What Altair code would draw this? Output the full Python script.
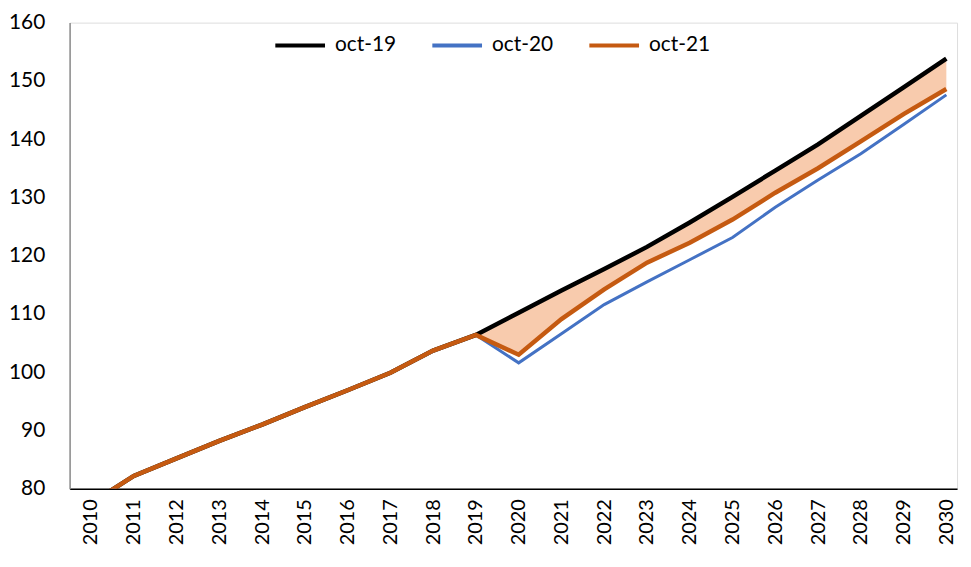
import altair as alt
import pandas as pd

years = list(range(2010, 2031))
oct19 = [77.5, 82.2, 85.2, 88.2, 91.0, 94.0, 96.9, 99.9, 103.7, 106.4,
         110.2, 114.0, 117.7, 121.5, 125.7, 130.1, 134.6, 139.1, 144.0, 148.9, 153.8]
oct20 = [77.5, 82.2, 85.2, 88.2, 91.0, 94.0, 96.9, 99.9, 103.6, 106.4,
         101.6, 106.6, 111.6, 115.5, 119.3, 123.1, 128.3, 133.0, 137.5, 142.5, 147.6]
oct21 = [77.5, 82.2, 85.2, 88.2, 91.0, 94.0, 96.9, 99.9, 103.7, 106.4,
         103.0, 109.1, 114.2, 118.8, 122.2, 126.2, 130.8, 135.0, 139.6, 144.3, 148.6]

series_names = ["oct-19", "oct-20", "oct-21"]
series_colors = ["#000000", "#4472C4", "#C55A11"]
series_widths = [4.5, 3, 4.5]

rows = []
for name, vals in zip(series_names, [oct19, oct20, oct21]):
    for yr, v in zip(years, vals):
        rows.append({"year": yr, "value": v, "series": name})
lines_df = pd.DataFrame(rows)

band_df = pd.DataFrame({"year": years, "upper": oct19, "lower": oct21})
band_df = band_df[band_df["year"] >= 2019]

FONT = "Lato"

x_scale = alt.Scale(domain=[2009.5, 2030.25], nice=False, zero=False)
y_scale = alt.Scale(domain=[80, 160], nice=False, zero=False)

x_axis = alt.Axis(values=years, format="d", labelAngle=270, labelFontSize=20,
                  labelFont=FONT, labelColor="#000000", labelPadding=10,
                  ticks=False, domainColor="#000000", domainWidth=1.5,
                  grid=False, title=None, labelOverlap=False, labelFlush=False)
y_axis = alt.Axis(values=list(range(80, 161, 10)), labelFontSize=21,
                  labelFont=FONT, labelColor="#000000", labelPadding=25,
                  ticks=False, domainColor="#8C8C8C", domainWidth=1.5,
                  grid=False, title=None)

color_enc = alt.Color("series:N",
                      scale=alt.Scale(domain=series_names, range=series_colors),
                      legend=alt.Legend(orient="none", legendX=205, legendY=-4,
                                        direction="horizontal", title=None,
                                        symbolType="stroke", symbolSize=2500,
                                        symbolStrokeWidth=4, labelFontSize=21,
                                        labelFont=FONT, labelColor="#000000",
                                        labelOffset=8, columnPadding=28))

band = alt.Chart(band_df).mark_area(color="#F8CBAD", opacity=1, clip=True).encode(
    x=alt.X("year:Q", scale=x_scale, axis=x_axis),
    y=alt.Y("upper:Q", scale=y_scale, axis=y_axis),
    y2="lower:Q",
)

layers = [band]
for name, w in zip(series_names, series_widths):
    layers.append(
        alt.Chart(lines_df[lines_df["series"] == name]).mark_line(clip=True, strokeWidth=w).encode(
            x=alt.X("year:Q", scale=x_scale, axis=x_axis),
            y=alt.Y("value:Q", scale=y_scale, axis=y_axis),
            color=color_enc,
            order=alt.Order("year:Q"),
        )
    )

chart = alt.layer(*layers).properties(
    width=893, height=469,
    autosize=alt.AutoSizeParams(type="none"),
    padding={"left": 62, "top": 13, "right": 6, "bottom": 61},
).configure_view(stroke=None).configure(background="#FFFFFF")

chart.save("out.html", embed_options={"renderer": "svg", "actions": False})
